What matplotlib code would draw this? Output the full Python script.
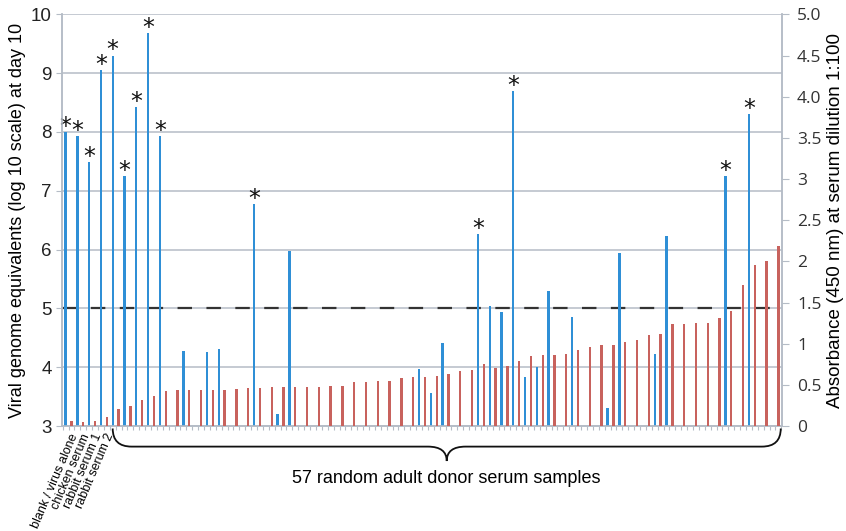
import numpy as np
import matplotlib.pyplot as plt
import matplotlib.transforms as mtransforms
from matplotlib.path import Path
from matplotlib.patches import PathPatch

nan = np.nan

controls = ['blank / virus alone', 'chicken serum', 'rabbit serum 1', 'rabbit serum 2']
donor_label = '57 random adult donor serum samples'

# viral genome equivalents at day 10 (log10), nan = no detectable bar
viral = [8.00, 7.93, 7.49, 9.05, 9.30, 7.25, 8.42, 9.68, 7.93, nan,
         4.28, nan, 4.26, 4.31, nan, nan, 6.78, nan, 3.20, 5.98,
         nan, nan, nan, nan, nan, nan, nan, nan, nan, nan,
         3.97, 3.56, 4.42, nan, nan, 6.27, 5.04, 4.94, 8.69, 3.83,
         4.00, 5.29, nan, 4.86, nan, nan, 3.31, 5.95, nan, nan,
         4.22, 6.23, nan, nan, nan, nan, 7.25, nan, 8.31, nan, nan]

# absorbance (450 nm) at serum dilution 1:100
absorbance = [0.06, 0.05, 0.06, 0.11, 0.21, 0.24, 0.32, 0.37, 0.43, 0.44,
              0.44, 0.44, 0.44, 0.44, 0.45, 0.46, 0.46, 0.47, 0.47, 0.47,
              0.47, 0.47, 0.48, 0.49, 0.54, 0.54, 0.55, 0.55, 0.58, 0.59,
              0.60, 0.61, 0.63, 0.67, 0.68, 0.75, 0.70, 0.73, 0.79, 0.85,
              0.86, 0.86, 0.88, 0.92, 0.96, 0.98, 0.99, 1.02, 1.05, 1.11,
              1.12, 1.24, 1.24, 1.25, 1.25, 1.31, 1.40, 1.71, 1.95, 2.00, 2.19]

# samples (1-based) marked with an asterisk
starred = [1, 2, 3, 4, 5, 6, 7, 8, 9, 17, 36, 39, 57, 59]

threshold = 5
right_ticks = [0, 0.5, 1, 1.5, 2, 2.5, 3, 3.5, 4, 4.5, 5]
right_labels = ['0', '0.5', '1', '1.5', '2', '2.5', '3', '3.5', '4.0', '4.5', '5.0']

blue = '#2f8fd6'
red = '#c8625d'
grid_c = '#b5bcc6'

plt.rcParams['font.family'] = ['Liberation Sans', 'DejaVu Sans']

fig = plt.figure(figsize=(8.46, 5.31), dpi=100)
ax = fig.add_axes([0.0729, 0.1977, 0.8511, 0.7753])
ax2 = ax.twinx()

x = np.arange(len(absorbance))
v = np.array(viral)
w = 0.2

ax.bar(x - 0.25, v - 3, bottom=3, width=w, color=blue, zorder=3)
ax2.bar(x + 0.25, absorbance, width=w, color=red, zorder=3)

for s in starred:
    ax.annotate('*', (s - 1 - 0.25, v[s - 1]), xytext=(0, -5), textcoords='offset points',
                ha='center', va='bottom', fontsize=17, family='DejaVu Sans', color='#111')

ax.set_ylim(3, 10)
ax2.set_ylim(0, 5)
ax.set_xlim(-0.58, len(absorbance) - 0.47)

ax.set_yticks(range(3, 11))
ax.yaxis.grid(True, color=grid_c, lw=1.1)
ax.set_axisbelow(True)
ax.axhline(threshold, color='#333333', lw=1.6, ls=(0, (6.5, 6.5)), zorder=2)

ax2.set_yticks(right_ticks)
ax2.set_yticklabels(right_labels, family='Open Sans')

ax.set_xticks(np.arange(-0.5, len(absorbance), 0.5))
ax.set_xticklabels([])
ax.tick_params(axis='x', length=3, color=grid_c, width=0.8)
ax.tick_params(axis='y', length=4, color=grid_c, labelsize=13.5, labelcolor='#222', pad=3)
ax2.tick_params(axis='y', length=5, color=grid_c, labelsize=12.5, labelcolor='#333', pad=6)

for a in (ax, ax2):
    a.spines['top'].set_visible(False)
    for side in ('left', 'right', 'bottom'):
        a.spines[side].set_color(grid_c)
        a.spines[side].set_linewidth(1.1)

ax.set_ylabel('Viral genome equivalents (log 10 scale) at day 10', fontsize=13, labelpad=4)
ax2.set_ylabel('Absorbance (450 nm) at serum dilution 1:100', fontsize=13.5, labelpad=4)

trans = mtransforms.blended_transform_factory(ax.transData, ax.transAxes)

for i, name in enumerate(controls):
    ax.text(i + 0.1, -0.014, name, transform=trans, rotation=67, rotation_mode='anchor',
            ha='right', va='top', fontsize=9)

# brace under the donor samples
xl = len(controls) - 0.25
xr = len(absorbance) - 0.55
xm = (xl + xr) / 2
y0, y1, y2 = -0.006, -0.05, -0.085
d = 1.6
verts = [(xl, y0), (xl, y1), (xl + d, y1),
         (xm - d, y1), (xm, y1), (xm, y2),
         (xm, y1), (xm + d, y1),
         (xr - d, y1), (xr, y1), (xr, y0)]
codes = [Path.MOVETO, Path.CURVE3, Path.CURVE3,
         Path.LINETO, Path.CURVE3, Path.CURVE3,
         Path.CURVE3, Path.CURVE3,
         Path.LINETO, Path.CURVE3, Path.CURVE3]
brace = PathPatch(Path(verts, codes), transform=trans, fill=False, lw=1.3,
                  color='#111', clip_on=False)
ax.add_patch(brace)
ax.text(xm, -0.127, donor_label, transform=trans, ha='center', va='center', fontsize=13)

fig.savefig('out.png', dpi=100)
